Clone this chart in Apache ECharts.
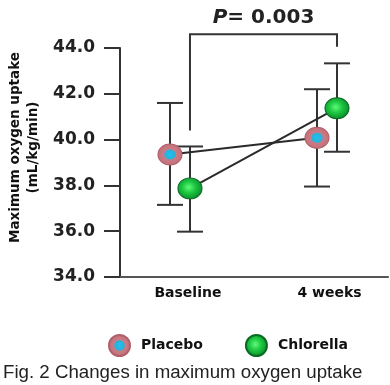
<!DOCTYPE html>
<html>
<head>
<meta charset="utf-8">
<script src="https://cdn.jsdelivr.net/npm/echarts@6/dist/echarts.min.js"></script>
<style>html,body{margin:0;padding:0;background:#fff}#c{width:390px;height:385px}</style>
</head>
<body>
<div id="c"></div>
<script>
const categories = ['Baseline', '4 weeks'];
const placeboMean = [39.35, 40.08];
const placeboLow = [37.15, 37.95];
const placeboHigh = [41.6, 42.2];
const chlorellaMean = [37.87, 41.37];
const chlorellaLow = [35.98, 39.47];
const chlorellaHigh = [39.7, 43.33];
const yMin = 34, yMax = 44, yStep = 2;
const pText = '= 0.003';
const bracketTop = 44.6, bracketLeftEnd = 40.4, bracketRightEnd = 44.05;

const catPos = [1, 2];
const off = 0.068;
const FB = 'DejaVu Sans';

const placeboX = catPos.map(v => v - off);
const chlorellaX = catPos.map(v => v + off);

const placeboPts = placeboX.map((x, i) => [x, placeboMean[i]]);
const chlorellaPts = chlorellaX.map((x, i) => [x, chlorellaMean[i]]);
const errData = [
  ...placeboX.map((x, i) => [x, placeboLow[i], placeboHigh[i]]),
  ...chlorellaX.map((x, i) => [x, chlorellaLow[i], chlorellaHigh[i]])
];

const placeboFill = {type: 'radial', x: 0.5, y: 0.5, r: 0.5, colorStops: [
  {offset: 0, color: '#22c0ec'}, {offset: 0.4, color: '#25b3dc'},
  {offset: 0.5, color: '#c97c86'}, {offset: 1, color: '#c46e78'}]};
const chlorellaFill = {type: 'radial', x: 0.45, y: 0.45, r: 0.6, colorStops: [
  {offset: 0, color: '#5dfb78'}, {offset: 0.45, color: '#1cc640'}, {offset: 1, color: '#08822a'}]};

const chart = echarts.init(document.getElementById('c'));
chart.setOption({
  animation: false,
  grid: {left: 120, right: 2, top: 48, bottom: 108, outerBoundsMode: 'none', containLabel: false},
  xAxis: {
    type: 'value', min: 0.592, max: 2.415,
    axisLine: {lineStyle: {color: '#555', width: 2}},
    axisTick: {show: false}, splitLine: {show: false},
    axisLabel: {
      customValues: [catPos[0] + 0.054, catPos[1] + 0.017],
      formatter: v => (v < 1.5 ? categories[0] : categories[1]),
      margin: 9, color: '#111', fontFamily: FB, fontWeight: 'bold', fontSize: 14
    }
  },
  yAxis: {
    type: 'value', min: yMin, max: yMax, interval: yStep,
    name: 'Maximum oxygen uptake\n(mL/kg/min)', nameLocation: 'middle', nameRotate: 90, nameGap: 74,
    nameTextStyle: {color: '#111', fontFamily: FB, fontWeight: 'bold', fontSize: 13.5, lineHeight: 18, padding: [0, 0, 0, 30]},
    axisLine: {show: true, lineStyle: {color: '#333', width: 2}},
    axisTick: {show: true, length: 16, lineStyle: {color: '#333', width: 2}},
    splitLine: {show: false},
    axisLabel: {formatter: v => v.toFixed(1), margin: 25, color: '#222', fontFamily: FB, fontWeight: 'bold', fontSize: 17}
  },
  legend: {
    data: ['Placebo', 'Chlorella'], left: 108, top: 334, padding: 0, itemWidth: 23, itemHeight: 21, itemGap: 42,
    icon: 'circle',
    textStyle: {color: '#111', fontFamily: FB, fontWeight: 'bold', fontSize: 14, padding: [2, 0, 0, 5]}
  },
  graphic: [{type: 'text', left: 3, top: 363, style: {text: 'Fig. 2 Changes in maximum oxygen uptake', fill: '#222', font: '18.7px "Liberation Sans"'}}],
  series: [
    {
      type: 'custom', name: 'err', z: 1, clip: false,
      renderItem: (params, api) => {
        const lo = api.coord([api.value(0), api.value(1)]);
        const hi = api.coord([api.value(0), api.value(2)]);
        const st = {stroke: '#333', lineWidth: 2};
        return {type: 'group', children: [
          {type: 'line', shape: {x1: lo[0], y1: lo[1], x2: hi[0], y2: hi[1]}, style: st},
          {type: 'line', shape: {x1: lo[0] - 13, y1: lo[1], x2: lo[0] + 13, y2: lo[1]}, style: st},
          {type: 'line', shape: {x1: hi[0] - 13, y1: hi[1], x2: hi[0] + 13, y2: hi[1]}, style: st}
        ]};
      },
      data: errData
    },
    {
      type: 'custom', name: 'bracket', z: 1, clip: false,
      renderItem: (params, api) => {
        const a = api.coord([api.value(0), api.value(3)]);
        const b = api.coord([api.value(0), api.value(2)]);
        const c = api.coord([api.value(1), api.value(2)]);
        const d = api.coord([api.value(1), api.value(4)]);
        return {type: 'group', children: [
          {type: 'polyline', shape: {points: [a, b, c, d]}, style: {stroke: '#333', lineWidth: 2, fill: null}},
          {type: 'text', x: (b[0] + c[0]) / 2, y: b[1] - 16, style: {
            text: '{i|P}' + pText, align: 'center', verticalAlign: 'middle',
            fill: '#222', fontFamily: FB, fontWeight: 'bold', fontSize: 20,
            rich: {i: {fontStyle: 'italic', fontFamily: FB, fontWeight: 'bold', fontSize: 20, fill: '#222'}}
          }}
        ]};
      },
      data: [[chlorellaX[0], chlorellaX[1], bracketTop, bracketLeftEnd, bracketRightEnd]]
    },
    {type: 'line', name: 'pl', z: 2, data: placeboPts, symbol: 'none', lineStyle: {color: '#2a2a2a', width: 2}},
    {type: 'line', name: 'cl', z: 2, data: chlorellaPts, symbol: 'none', lineStyle: {color: '#2a2a2a', width: 2}},
    {type: 'scatter', name: 'Placebo', z: 3, data: placeboPts, symbolSize: [24, 21],
      itemStyle: {color: placeboFill, borderColor: '#b0606a', borderWidth: 1, opacity: 1}},
    {type: 'scatter', name: 'Chlorella', z: 3, data: chlorellaPts, symbolSize: [24, 21],
      itemStyle: {color: chlorellaFill, borderColor: '#0a6a22', borderWidth: 1, opacity: 1}}
  ]
});
</script>
</body>
</html>
